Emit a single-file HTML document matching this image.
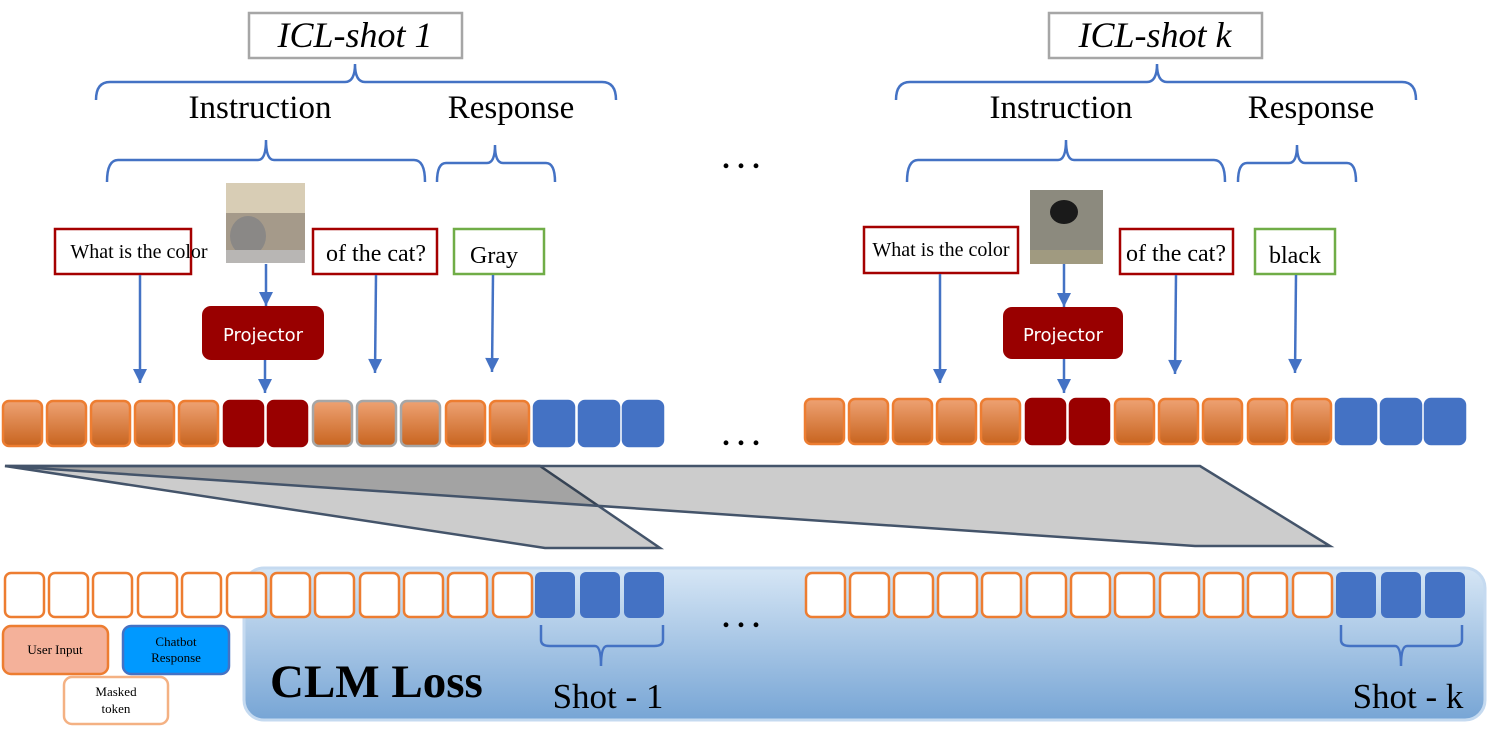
<!DOCTYPE html><html><head><style>body{margin:0;background:#fff}svg{display:block}text{font-family:"Liberation Serif",serif}</style></head><body>
<svg width="1495" height="731" viewBox="0 0 1495 731" xmlns="http://www.w3.org/2000/svg">
<defs>
<linearGradient id="og" x1="0" y1="0" x2="0" y2="1"><stop offset="0" stop-color="#eea273"/><stop offset="1" stop-color="#c8641f"/></linearGradient>
<linearGradient id="bg" x1="0" y1="0" x2="0" y2="1"><stop offset="0" stop-color="#d6e6f5"/><stop offset="1" stop-color="#77a5d5"/></linearGradient>
<marker id="a" viewBox="0 0 10 10" refX="10" refY="5" markerWidth="16" markerHeight="14" orient="auto" markerUnits="userSpaceOnUse"><path d="M0,0 L10,5 L0,10z" fill="#4472c4"/></marker>
</defs>
<rect x="244" y="568" width="1241" height="152" rx="20" fill="url(#bg)" stroke="#c5daf0" stroke-width="3"/>
<path d="M5,466 L540,466 L660,548 L545,548 Z" fill="#000" fill-opacity="0.2" stroke="#44546a" stroke-width="2.5"/>
<path d="M5,466 L1200,466 L1330,546 L1195,546 Z" fill="#000" fill-opacity="0.2" stroke="#44546a" stroke-width="2.5"/>
<g stroke-width="2.5">
<rect x="3" y="401" width="39" height="45" rx="6" fill="url(#og)" stroke="#ed7d31"/>
<rect x="47" y="401" width="39" height="45" rx="6" fill="url(#og)" stroke="#ed7d31"/>
<rect x="91" y="401" width="39" height="45" rx="6" fill="url(#og)" stroke="#ed7d31"/>
<rect x="135" y="401" width="39" height="45" rx="6" fill="url(#og)" stroke="#ed7d31"/>
<rect x="179" y="401" width="39" height="45" rx="6" fill="url(#og)" stroke="#ed7d31"/>
<rect x="224" y="401" width="39" height="45" rx="6" fill="#990000" stroke="#990000"/>
<rect x="268" y="401" width="39" height="45" rx="6" fill="#990000" stroke="#990000"/>
<rect x="313" y="401" width="39" height="45" rx="6" fill="url(#og)" stroke="#a6a6a6"/>
<rect x="357" y="401" width="39" height="45" rx="6" fill="url(#og)" stroke="#a6a6a6"/>
<rect x="401" y="401" width="39" height="45" rx="6" fill="url(#og)" stroke="#a6a6a6"/>
<rect x="446" y="401" width="39" height="45" rx="6" fill="url(#og)" stroke="#ed7d31"/>
<rect x="490" y="401" width="39" height="45" rx="6" fill="url(#og)" stroke="#ed7d31"/>
<rect x="534" y="401" width="40" height="45" rx="6" fill="#4472c4" stroke="#4472c4"/>
<rect x="579" y="401" width="40" height="45" rx="6" fill="#4472c4" stroke="#4472c4"/>
<rect x="623" y="401" width="40" height="45" rx="6" fill="#4472c4" stroke="#4472c4"/>
</g>
<g stroke-width="2.5">
<rect x="805" y="399" width="39" height="45" rx="6" fill="url(#og)" stroke="#ed7d31"/>
<rect x="849" y="399" width="39" height="45" rx="6" fill="url(#og)" stroke="#ed7d31"/>
<rect x="893" y="399" width="39" height="45" rx="6" fill="url(#og)" stroke="#ed7d31"/>
<rect x="937" y="399" width="39" height="45" rx="6" fill="url(#og)" stroke="#ed7d31"/>
<rect x="981" y="399" width="39" height="45" rx="6" fill="url(#og)" stroke="#ed7d31"/>
<rect x="1026" y="399" width="39" height="45" rx="6" fill="#990000" stroke="#990000"/>
<rect x="1070" y="399" width="39" height="45" rx="6" fill="#990000" stroke="#990000"/>
<rect x="1115" y="399" width="39" height="45" rx="6" fill="url(#og)" stroke="#ed7d31"/>
<rect x="1159" y="399" width="39" height="45" rx="6" fill="url(#og)" stroke="#ed7d31"/>
<rect x="1203" y="399" width="39" height="45" rx="6" fill="url(#og)" stroke="#ed7d31"/>
<rect x="1248" y="399" width="39" height="45" rx="6" fill="url(#og)" stroke="#ed7d31"/>
<rect x="1292" y="399" width="39" height="45" rx="6" fill="url(#og)" stroke="#ed7d31"/>
<rect x="1336" y="399" width="40" height="45" rx="6" fill="#4472c4" stroke="#4472c4"/>
<rect x="1381" y="399" width="40" height="45" rx="6" fill="#4472c4" stroke="#4472c4"/>
<rect x="1425" y="399" width="40" height="45" rx="6" fill="#4472c4" stroke="#4472c4"/>
</g>
<g stroke-width="2.5" fill="#fff" stroke="#ed7d31">
<rect x="5" y="573" width="39" height="44" rx="6"/><rect x="49" y="573" width="39" height="44" rx="6"/><rect x="93" y="573" width="39" height="44" rx="6"/><rect x="138" y="573" width="39" height="44" rx="6"/><rect x="182" y="573" width="39" height="44" rx="6"/><rect x="227" y="573" width="39" height="44" rx="6"/><rect x="271" y="573" width="39" height="44" rx="6"/><rect x="315" y="573" width="39" height="44" rx="6"/><rect x="360" y="573" width="39" height="44" rx="6"/><rect x="404" y="573" width="39" height="44" rx="6"/><rect x="448" y="573" width="39" height="44" rx="6"/><rect x="493" y="573" width="39" height="44" rx="6"/>
<rect x="806" y="573" width="39" height="44" rx="6"/><rect x="850" y="573" width="39" height="44" rx="6"/><rect x="894" y="573" width="39" height="44" rx="6"/><rect x="938" y="573" width="39" height="44" rx="6"/><rect x="982" y="573" width="39" height="44" rx="6"/><rect x="1027" y="573" width="39" height="44" rx="6"/><rect x="1071" y="573" width="39" height="44" rx="6"/><rect x="1115" y="573" width="39" height="44" rx="6"/><rect x="1160" y="573" width="39" height="44" rx="6"/><rect x="1204" y="573" width="39" height="44" rx="6"/><rect x="1248" y="573" width="39" height="44" rx="6"/><rect x="1293" y="573" width="39" height="44" rx="6"/>
</g>
<g fill="#4472c4">
<rect x="535" y="572" width="40" height="46" rx="6"/><rect x="580" y="572" width="40" height="46" rx="6"/><rect x="624" y="572" width="40" height="46" rx="6"/>
<rect x="1336" y="572" width="40" height="46" rx="6"/><rect x="1381" y="572" width="40" height="46" rx="6"/><rect x="1425" y="572" width="40" height="46" rx="6"/>
</g>
<g fill="none" stroke="#4472c4" stroke-width="2.5">
<path d="M96,100 Q96,82 110,82 L345,82 Q355,82 355,64 Q355,82 365,82 L602,82 Q616,82 616,100"/>
<path d="M896,100 Q896,82 910,82 L1147,82 Q1157,82 1157,64 Q1157,82 1167,82 L1402,82 Q1416,82 1416,100"/>
<path d="M107,182 Q107,160 118,160 L258,160 Q266,160 266,140 Q266,160 274,160 L414,160 Q425,160 425,182"/>
<path d="M437,182 Q437,163 446,163 L487,163 Q495,163 495,145 Q495,163 503,163 L546,163 Q555,163 555,182"/>
<path d="M907,182 Q907,160 918,160 L1058,160 Q1066,160 1066,140 Q1066,160 1074,160 L1214,160 Q1225,160 1225,182"/>
<path d="M1238,182 Q1238,163 1247,163 L1289,163 Q1297,163 1297,145 Q1297,163 1305,163 L1347,163 Q1356,163 1356,182"/>
<path d="M541,625 L541,640 Q541,646 550,646 L595,646 Q601,646 601,666 Q601,646 607,646 L654,646 Q663,646 663,640 L663,625"/>
<path d="M1341,625 L1341,640 Q1341,646 1350,646 L1395,646 Q1401,646 1401,666 Q1401,646 1407,646 L1453,646 Q1462,646 1462,640 L1462,625"/>
</g>
<rect x="249" y="13" width="213" height="45" fill="#fff" stroke="#a6a6a6" stroke-width="2.5"/>
<text x="355" y="47" font-size="36" font-style="italic" text-anchor="middle">ICL-shot 1</text>
<rect x="1049" y="13" width="213" height="45" fill="#fff" stroke="#a6a6a6" stroke-width="2.5"/>
<text x="1155" y="47" font-size="36" font-style="italic" text-anchor="middle">ICL-shot k</text>
<g font-size="33" text-anchor="middle">
<text x="260" y="118">Instruction</text><text x="511" y="118">Response</text>
<text x="1061" y="118">Instruction</text><text x="1311" y="118">Response</text>
</g>
<g font-size="30" text-anchor="middle" font-weight="bold"><text x="741" y="168">. . .</text><text x="741" y="445">. . .</text><text x="741" y="627">. . .</text></g>
<g fill="#fff" stroke-width="2.5">
<rect x="55" y="229" width="136" height="45" stroke="#a50000"/>
<rect x="313" y="229" width="124" height="45" stroke="#a50000"/>
<rect x="454" y="229" width="90" height="45" stroke="#70ad47"/>
<rect x="864" y="227" width="154" height="46" stroke="#a50000"/>
<rect x="1120" y="229" width="113" height="45" stroke="#a50000"/>
<rect x="1255" y="229" width="80" height="45" stroke="#70ad47"/>
</g>
<g font-size="20" text-anchor="middle">
<text x="139" y="258">What is the color</text>
<text x="376" y="261" font-size="24">of the cat?</text>
<text x="494" y="263" font-size="24">Gray</text>
<text x="941" y="256">What is the color</text>
<text x="1176" y="261" font-size="24">of the cat?</text>
<text x="1295" y="263" font-size="24">black</text>
</g>
<rect x="226" y="183" width="79" height="80" fill="#a59a8a"/><rect x="226" y="183" width="79" height="30" fill="#d8cdb5"/><ellipse cx="248" cy="236" rx="18" ry="20" fill="#8a8886"/><rect x="226" y="250" width="79" height="13" fill="#b8b6b4"/>
<rect x="1030" y="190" width="73" height="74" fill="#8c8a7e"/><ellipse cx="1064" cy="212" rx="14" ry="12" fill="#1a1a1a"/><rect x="1030" y="250" width="73" height="14" fill="#a09a80"/>
<rect x="202" y="306" width="122" height="54" rx="9" fill="#990000"/>
<text x="263" y="341" font-size="18" fill="#fff" text-anchor="middle" style="font-family:'DejaVu Sans',sans-serif">Projector</text>
<rect x="1003" y="307" width="120" height="52" rx="9" fill="#990000"/>
<text x="1063" y="341" font-size="18" fill="#fff" text-anchor="middle" style="font-family:'DejaVu Sans',sans-serif">Projector</text>
<g stroke="#4472c4" stroke-width="2.5" marker-end="url(#a)">
<line x1="140" y1="275" x2="140" y2="383"/><line x1="266" y1="264" x2="266" y2="306"/><line x1="265" y1="360" x2="265" y2="393"/><line x1="376" y1="275" x2="375" y2="373"/><line x1="493" y1="275" x2="492" y2="372"/>
<line x1="940" y1="274" x2="940" y2="383"/><line x1="1064" y1="264" x2="1064" y2="307"/><line x1="1064" y1="359" x2="1064" y2="393"/><line x1="1176" y1="275" x2="1175" y2="374"/><line x1="1296" y1="275" x2="1295" y2="373"/>
</g>
<rect x="3" y="626" width="105" height="48" rx="8" fill="#f4b19a" stroke="#ed7d31" stroke-width="2.5"/>
<text x="55" y="654" font-size="13" text-anchor="middle">User Input</text>
<rect x="123" y="626" width="106" height="48" rx="8" fill="#0099ff" stroke="#4472c4" stroke-width="2.5"/>
<text x="176" y="646" font-size="13" text-anchor="middle">Chatbot</text><text x="176" y="662" font-size="13" text-anchor="middle">Response</text>
<rect x="64" y="677" width="104" height="47" rx="8" fill="#fff" stroke="#f4b183" stroke-width="2.5"/>
<text x="116" y="696" font-size="13" text-anchor="middle">Masked</text><text x="116" y="713" font-size="13" text-anchor="middle">token</text>
<text x="270" y="697" font-size="47" font-weight="bold">CLM Loss</text>
<text x="608" y="708" font-size="35" text-anchor="middle">Shot - 1</text>
<text x="1408" y="708" font-size="35" text-anchor="middle">Shot - k</text>
</svg>
</body></html>
